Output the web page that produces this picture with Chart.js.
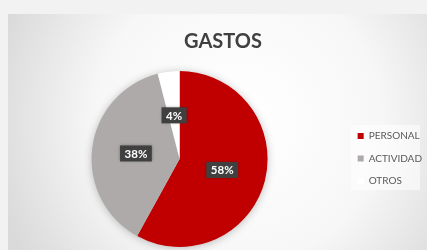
<!DOCTYPE html>
<html><head><meta charset="utf-8">
<script src="https://cdn.jsdelivr.net/npm/chart.js@4/dist/chart.umd.min.js"></script>
<style>html,body{margin:0;padding:0;background:#f2f2f2;}#wrap{width:427px;height:250px;}</style>
</head><body><div id="wrap"><canvas id="c" width="427" height="250"></canvas></div>
<script>
const title = "GASTOS";
const categories = ["PERSONAL", "ACTIVIDAD", "OTROS"];
const values = [58, 38, 4];
const valueLabels = ["58%", "38%", "4%"];
const colors = ["#c00000", "#aeaaaa", "#ffffff"];

const bgPlugin = {
  id: 'bg',
  beforeDraw(chart) {
    const ctx = chart.ctx;
    ctx.save();
    ctx.fillStyle = '#f2f2f2';
    ctx.fillRect(0, 0, chart.width, chart.height);
    const x0 = 8, y0 = 14, w = chart.width - x0, h = chart.height - y0;
    const g = ctx.createRadialGradient(x0 + w*0.55, y0 + h*0.45, 10, x0 + w*0.55, y0 + h*0.45, w*0.6);
    g.addColorStop(0, '#ffffff');
    g.addColorStop(0.55, '#f7f7f7');
    g.addColorStop(1, '#dadada');
    ctx.fillStyle = g;
    ctx.fillRect(x0, y0, w, h);
    ctx.fillStyle = 'rgba(255,255,255,0.55)';
    ctx.fillRect(351, 125, 69, 65);
    ctx.restore();
  },
  beforeDatasetsDraw(chart) {
    const ctx = chart.ctx;
    ctx.save();
    const meta = chart.getDatasetMeta(0);
    const a = meta.data[0];
    ctx.shadowColor = 'rgba(0,0,0,0.3)';
    ctx.shadowBlur = 10;
    ctx.shadowOffsetX = 0; ctx.shadowOffsetY = 1;
    ctx.fillStyle = '#cccccc';
    ctx.beginPath();
    ctx.arc(a.x, a.y, a.outerRadius - 1, 0, Math.PI * 2);
    ctx.fill();
    ctx.restore();
  },
  afterDatasetsDraw(chart) {
    const ctx = chart.ctx;
    const meta = chart.getDatasetMeta(0);
    ctx.save();
    ctx.font = 'bold 11.5px Lato';
    ctx.textAlign = 'center';
    ctx.textBaseline = 'middle';
    meta.data.forEach((arc, i) => {
      const p = arc.getCenterPoint();
      const txt = valueLabels[i];
      const tw = ctx.measureText(txt).width;
      const bw = tw + 9, bh = 16;
      ctx.save();
      ctx.shadowColor = 'rgba(0,0,0,0.35)';
      ctx.shadowBlur = 3;
      ctx.fillStyle = '#404040';
      ctx.fillRect(p.x - bw/2, p.y - bh/2, bw, bh);
      ctx.restore();
      ctx.fillStyle = '#ffffff';
      ctx.fillText(txt, p.x, p.y + 0.5);
    });
    ctx.restore();
  }
};

new Chart(document.getElementById('c'), {
  type: 'pie',
  data: {
    labels: categories,
    datasets: [{ data: values, backgroundColor: colors, borderWidth: 0 }]
  },
  options: {
    responsive: false,
    animation: false,
    layout: { padding: { top: 14, left: 14, right: -5, bottom: 3 } },
    plugins: {
      tooltip: { enabled: false },
      title: {
        display: true, text: title, color: '#404040',
        font: { family: 'Lato', size: 20, weight: 'bold' },
        padding: { top: 16, bottom: 17 }
      },
      legend: {
        position: 'right',
        title: { display: true, text: '', padding: 22, font: { size: 10 } },
        labels: {
          color: '#595959',
          font: { family: 'Lato', size: 10 },
          boxWidth: 6, boxHeight: 6, padding: 12.5
        }
      }
    }
  },
  plugins: [bgPlugin]
});
</script></body></html>
